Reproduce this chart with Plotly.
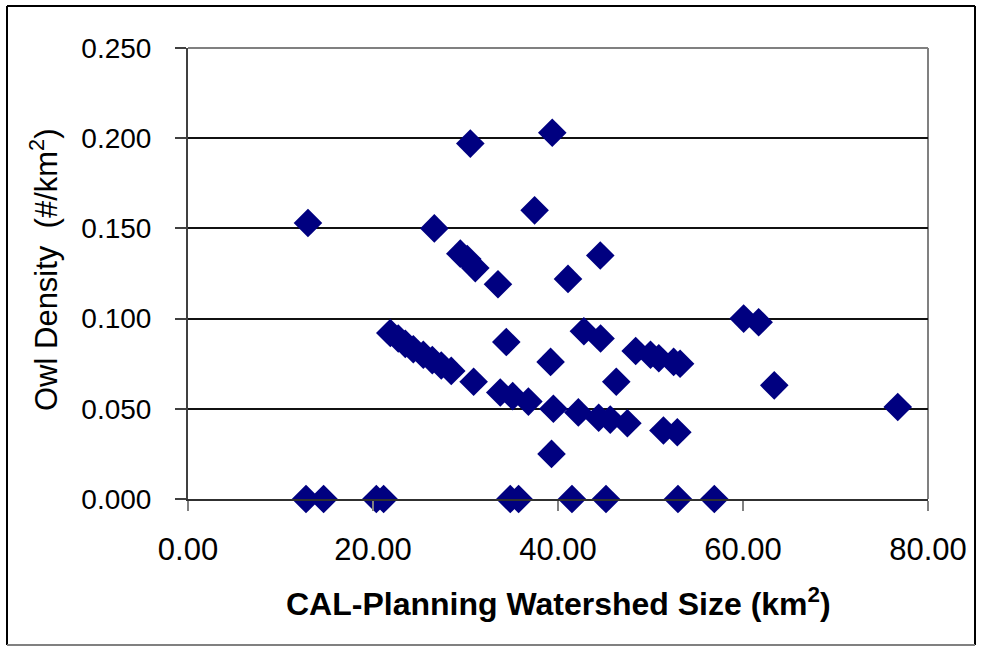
import plotly.graph_objects as go

# ---- data ----
watershed_size_km2 = [
    12.76, 14.66, 20.36, 21.15, 34.84, 35.74, 41.51, 45.19, 52.97, 56.90,
    12.97, 30.52, 39.38, 37.47, 26.63, 29.44, 30.19, 31.06, 33.51, 41.08, 44.57,
    21.87, 22.73, 23.49, 24.36, 25.44, 26.41, 27.38, 28.46,
    30.88, 34.41,
    33.76, 35.10, 36.80, 39.50, 42.20, 44.40, 45.65, 47.50,
    42.80, 44.60, 39.20, 46.30, 48.40, 50.00, 50.90, 52.50, 53.20,
    51.40, 52.90, 39.30, 60.07, 61.69, 63.38, 76.73,
]
owl_density = [
    0.000, 0.000, 0.000, 0.000, 0.000, 0.000, 0.000, 0.000, 0.000, 0.000,
    0.153, 0.197, 0.203, 0.160, 0.150, 0.136, 0.133, 0.128, 0.119, 0.122, 0.135,
    0.092, 0.089, 0.086, 0.083, 0.080, 0.077, 0.074, 0.071,
    0.065, 0.087,
    0.059, 0.057, 0.054, 0.050, 0.048, 0.045, 0.044, 0.042,
    0.093, 0.089, 0.076, 0.065, 0.082, 0.080, 0.078, 0.076, 0.075,
    0.038, 0.037, 0.025, 0.100, 0.098, 0.063, 0.051,
]
x_tick_values = [0, 20, 40, 60, 80]
y_tick_values = [0.0, 0.05, 0.10, 0.15, 0.20, 0.25]

x_title = "<b>CAL-Planning Watershed Size (km<sup>2</sup>)</b>"
y_title = "Owl Density&nbsp; (#/km<sup>2</sup>)"

# ---- layout geometry (pixels) ----
W, H = 983, 647
L, R, T, B = 188, 55, 48, 148
PW, PH = W - L - R, H - T - B


def px2paper_x(p):
    return (p - L) / PW


def px2paper_y(p):
    return (H - B - p) / PH


FONT = "Liberation Sans, Arial, sans-serif"

fig = go.Figure()
fig.add_trace(go.Scatter(
    x=watershed_size_km2, y=owl_density, mode="markers",
    marker=dict(symbol="diamond", size=22, color="#000080",
                line=dict(width=0)),
    cliponaxis=False, showlegend=False,
))

shapes = [
    # plot-area border (grey) top and right
    dict(type="line", xref="paper", yref="paper", x0=0, x1=1, y0=1, y1=1,
         line=dict(color="#808080", width=2), layer="below"),
    dict(type="line", xref="paper", yref="paper", x0=1, x1=1, y0=0, y1=1,
         line=dict(color="#808080", width=2), layer="below"),
    # outer frame
    dict(type="line", xref="paper", yref="paper",
         x0=px2paper_x(7), x1=px2paper_x(7), y0=px2paper_y(645), y1=px2paper_y(6),
         line=dict(color="#000000", width=2)),
    dict(type="line", xref="paper", yref="paper",
         x0=px2paper_x(7), x1=px2paper_x(975), y0=px2paper_y(6), y1=px2paper_y(6),
         line=dict(color="#000000", width=2)),
    dict(type="line", xref="paper", yref="paper",
         x0=px2paper_x(975), x1=px2paper_x(975), y0=px2paper_y(645), y1=px2paper_y(6),
         line=dict(color="#000000", width=2)),
    dict(type="line", xref="paper", yref="paper",
         x0=px2paper_x(7), x1=px2paper_x(975), y0=px2paper_y(645), y1=px2paper_y(645),
         line=dict(color="#808080", width=2)),
]

annotations = [
    dict(text=x_title, xref="paper", yref="paper",
         x=px2paper_x(558), y=px2paper_y(602), xanchor="center", yanchor="middle",
         showarrow=False, font=dict(family=FONT, size=32, color="#000000")),
    dict(text=y_title, xref="paper", yref="paper", textangle=-90,
         x=px2paper_x(44), y=px2paper_y(270), xanchor="center", yanchor="middle",
         showarrow=False, font=dict(family=FONT, size=31, color="#000000")),
]

fig.update_layout(
    width=W, height=H,
    margin=dict(l=L, r=R, t=T, b=B, pad=0),
    paper_bgcolor="#ffffff", plot_bgcolor="#ffffff",
    font=dict(family=FONT, color="#000000"),
    shapes=shapes, annotations=annotations,
    xaxis=dict(
        range=[0, 80], tickvals=x_tick_values, tickformat=".2f",
        showgrid=False, zeroline=False,
        showline=True, linecolor="#303030", linewidth=2,
        ticks="outside", ticklen=10, tickwidth=2, tickcolor="#808080",
        ticklabelstandoff=12,
        tickfont=dict(family=FONT, size=31, color="#000000"),
    ),
    yaxis=dict(
        range=[0, 0.25], tickvals=y_tick_values, tickformat=".3f",
        showgrid=True, gridcolor="#111111", gridwidth=1.5, zeroline=False,
        showline=True, linecolor="#404040", linewidth=2,
        ticks="outside", ticklen=11, tickwidth=1.5, tickcolor="#404040",
        ticklabelstandoff=18,
        tickfont=dict(family=FONT, size=28, color="#000000"),
    ),
)

fig.write_html("out.html", config={"displayModeBar": False},
               post_script="document.body.style.margin='0';")
